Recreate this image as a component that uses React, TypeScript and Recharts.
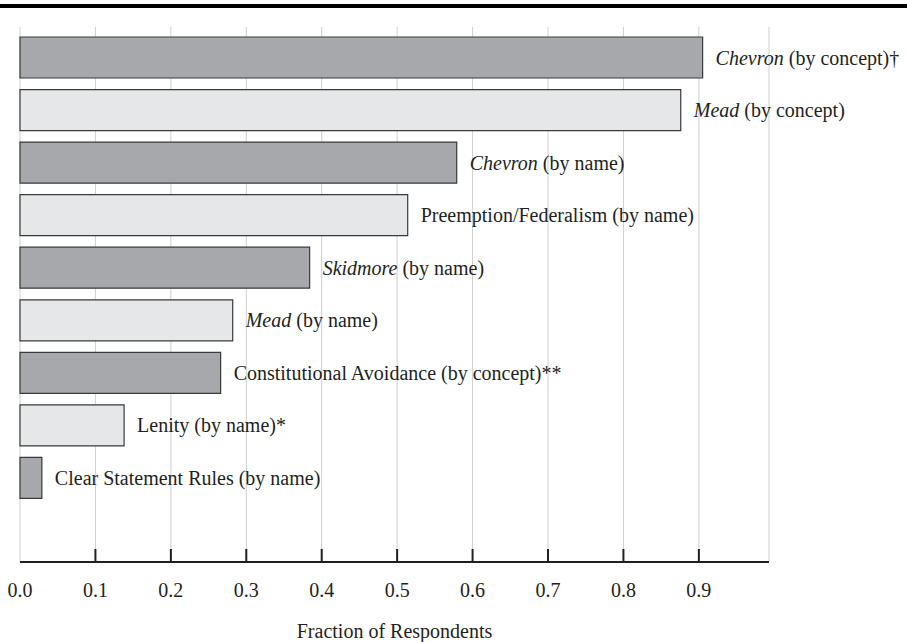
import { Bar, BarChart, CartesianGrid, Cell, LabelList, XAxis, YAxis } from "recharts";

const categories = [
  "Chevron (by concept)",
  "Mead (by concept)",
  "Chevron (by name)",
  "Preemption/Federalism (by name)",
  "Skidmore (by name)",
  "Mead (by name)",
  "Constitutional Avoidance (by concept)",
  "Lenity (by name)",
  "Clear Statement Rules (by name)",
];
const labelItalic = ["Chevron", "Mead", "Chevron", "", "Skidmore", "Mead", "", "", ""];
const labelRest = [
  " (by concept)†",
  " (by concept)",
  " (by name)",
  "Preemption/Federalism (by name)",
  " (by name)",
  " (by name)",
  "Constitutional Avoidance (by concept)**",
  "Lenity (by name)*",
  "Clear Statement Rules (by name)",
];
const fractions = [0.905, 0.876, 0.579, 0.514, 0.384, 0.282, 0.266, 0.138, 0.029];
const xTicks = [0, 0.1, 0.2, 0.3, 0.4, 0.5, 0.6, 0.7, 0.8, 0.9];

const DARK = "#a7a8ab";
const LIGHT = "#e6e7e8";
const INK = "#231f20";
const FONT = "'Liberation Serif', 'Times New Roman', serif";

const data = categories.map((name, i) => ({
  name,
  value: fractions[i],
  italic: labelItalic[i],
  rest: labelRest[i],
}));

// ticks point up into the plot, numbers sit well below the axis
function BottomTick(props: any) {
  const { x, y, payload, index } = props;
  return (
    <g>
      {index > 0 && <line x1={x} x2={x} y1={y - 13} y2={y} stroke={INK} strokeWidth={2} />}
      <text x={x} y={y + 28} textAnchor="middle" dominantBaseline="central" fill={INK} fontSize={20} fontFamily={FONT}>
        {payload.value.toFixed(1)}
      </text>
    </g>
  );
}

function BarLabel(props: any) {
  const { x, y, width, height, index } = props;
  const row = data[index];
  return (
    <text x={x + width + 13} y={y + height / 2} dominantBaseline="central" fill={INK} fontSize={20} fontFamily={FONT}>
      {row.italic && <tspan fontStyle="italic">{row.italic}</tspan>}
      <tspan>{row.rest}</tspan>
    </text>
  );
}

export default function App() {
  return (
    <div style={{ position: "absolute", top: 0, left: 0, width: 907, height: 642, background: "#fff" }}>
      <div style={{ position: "absolute", top: 4, left: 0, width: 907, height: 4, background: "#000" }} />
      <BarChart
        width={907}
        height={642}
        data={data}
        layout="vertical"
        margin={{ top: 27, right: 138, bottom: 0, left: 20 }}
        barSize={41}
      >
        <CartesianGrid horizontal={false} stroke="#cfcfcf" strokeWidth={1} />
        <XAxis
          type="number"
          domain={[0, 0.993]}
          ticks={xTicks}
          interval={0}
          height={80}
          tickSize={0}
          tickMargin={0}
          tickLine={false}
          axisLine={{ stroke: INK, strokeWidth: 2 }}
          tick={<BottomTick />}
          label={{
            value: "Fraction of Respondents",
            position: "insideBottom",
            offset: 4,
            fill: INK,
            fontSize: 20,
            fontFamily: FONT,
          }}
        />
        <YAxis
          type="category"
          dataKey="name"
          width={0}
          tick={false}
          tickLine={false}
          axisLine={{ stroke: INK, strokeWidth: 2 }}
          padding={{ top: 4, bottom: 58 }}
        />
        <Bar dataKey="value" stroke="#3a3a3a" strokeWidth={1.2} isAnimationActive={false}>
          {data.map((_, i) => (
            <Cell key={i} fill={i % 2 === 0 ? DARK : LIGHT} />
          ))}
          <LabelList dataKey="value" content={<BarLabel />} />
        </Bar>
      </BarChart>
    </div>
  );
}
